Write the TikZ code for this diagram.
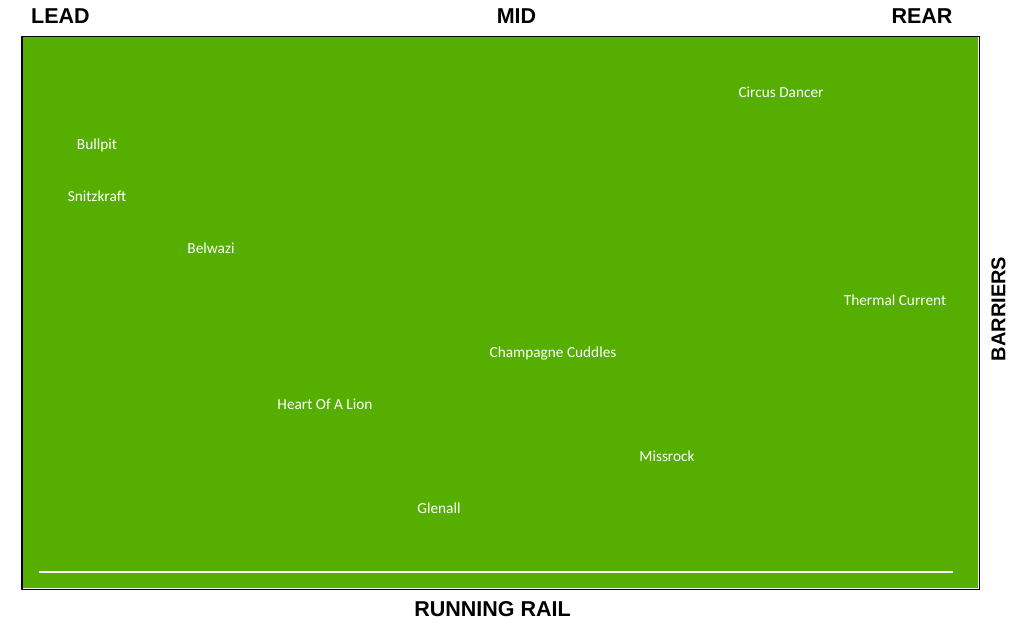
\documentclass[tikz,border=0pt]{standalone}
\usepackage{fontspec}
\setmainfont{Carlito}
\newfontfamily\headfont{Liberation Sans}
\definecolor{turf}{RGB}{85,174,0}
\tikzset{
  horse/.style={text=white, font=\fontsize{15.3}{18}\selectfont, inner sep=0pt, anchor=base},
  heading/.style={text=black, font=\headfont\bfseries\fontsize{21.5}{24}\selectfont, inner sep=0pt},
  sideheading/.style={text=black, font=\headfont\bfseries\fontsize{20}{24}\selectfont, inner sep=0pt, rotate=90}
}
\begin{document}
\begin{tikzpicture}[x=1pt,y=-1pt]
    \useasboundingbox (0,0) rectangle (1024,622);
    \draw[black, line width=1.5pt] (22,36.5) rectangle (979.5,589.5);
    \fill[white] (22.7,37) rectangle (979,589);
    \fill[turf] (22.7,37) rectangle (978,587.5);
    \coordinate (railstart) at (39,572);
    \coordinate (railend) at (953,572);
    \draw[white, line width=1.8pt] (railstart) -- (railend);
    \foreach \x/\y/\name [count=\i] in {97/149/Bullpit, 97/201/Snitzkraft, 211/253/Belwazi,
        781/97/Circus Dancer, 895/305/Thermal Current, 553/357/Champagne Cuddles,
        325/409/Heart Of A Lion, 667/461/Missrock, 439/513/Glenall}{
      \node[horse] (horse\i) at (\x,\y) {\name};
    }
    \node[heading] (lead) at (60.5,16) {LEAD};
    \node[heading] (mid) at (516.5,16) {MID};
    \node[heading] (rear) at (922,16) {REAR};
    \node[heading] (rail) at (492.5,609.5) {RUNNING RAIL};
    \node[sideheading] (barriers) at (998.5,309) {BARRIERS};
  \end{tikzpicture}
\end{document}
